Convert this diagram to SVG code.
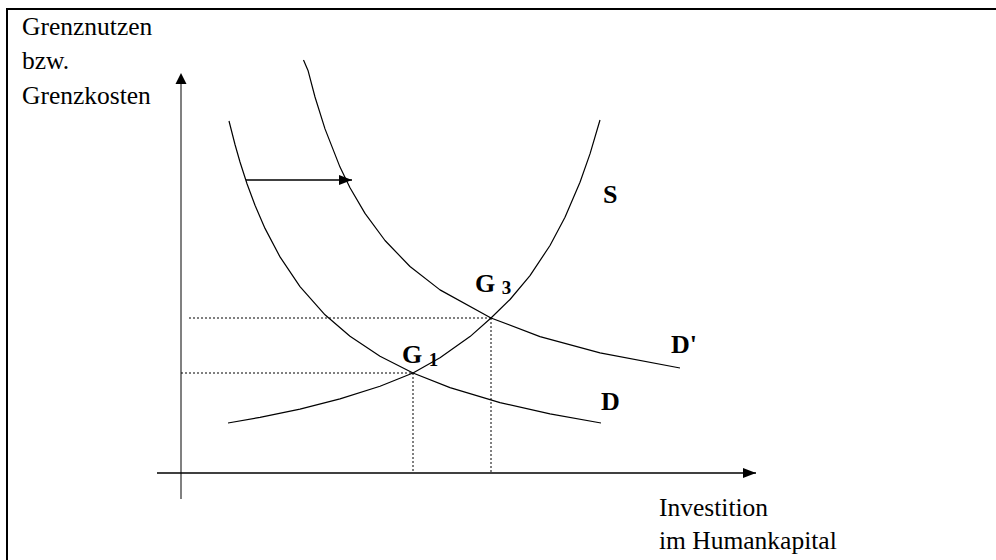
<svg xmlns="http://www.w3.org/2000/svg" width="996" height="560" viewBox="0 0 996 560">
<style>
.lbl{font-family:"Liberation Serif","Times New Roman",serif;font-size:25.5px;fill:#000}
.b{font-family:"Liberation Serif","Times New Roman",serif;font-size:26px;font-weight:bold;fill:#000}
.sub{font-size:19px}
.curve{fill:none;stroke:#000;stroke-width:1.2;stroke-linejoin:round}
.dot{fill:none;stroke:#000;stroke-width:1;stroke-dasharray:2 2}
</style>
<defs>
<marker id="ah" markerWidth="14" markerHeight="12" refX="13" refY="5" orient="auto" markerUnits="userSpaceOnUse">
<path d="M0,0 L13,5 L0,10 Z" fill="#000"/>
</marker>
</defs>
<rect x="7" y="9" width="1000" height="560" fill="#fff" stroke="#000" stroke-width="2"/>
<g id="axes">
<line x1="181" y1="499" x2="181" y2="84" stroke="#808080" stroke-width="2"/>
<path d="M181,73 L186.5,84 L175.5,84 Z" fill="#000"/>
<line x1="157" y1="473" x2="756" y2="473" stroke="#000" stroke-width="1.3" marker-end="url(#ah)"/>
</g>
<g id="guides">
<line class="dot" x1="189" y1="318" x2="491" y2="318"/>
<line class="dot" x1="181" y1="373" x2="413" y2="373"/>
<line class="dot" x1="413" y1="373" x2="413" y2="473"/>
<line class="dot" x1="491" y1="318" x2="491" y2="473"/>
</g>
<g id="curves">
<path id="curve-D" class="curve" d="M229,121 L235,144.5 L240,162 L247,183.7 L255,205.3 L265,228.4 L280,256.9 L300,286.6 L325,314.8 L350,336.3 L380,356.2 L413,373 L450,387.6 L500,402.6 L550,413.9 L601,423"/>
<path id="curve-Dp" class="curve" d="M303.5,60 L308,70.4 L315,97 L325,128.9 L340,167.1 L350,187.7 L365,213.4 L385,240.5 L410,266.5 L440,289.9 L491,318 L540,336.6 L600,352.8 L680,368"/>
<path id="curve-S" class="curve" d="M228,423 L260,417.4 L300,409.1 L340,398.9 L380,386.2 L413,373 L440,357.8 L470,336.6 L491,318 L510,299.5 L530,275.6 L550,245.5 L565,217.3 L580,182.3 L590,153.9 L600,120"/>
</g>
<g id="connectors">
<line x1="246" y1="180" x2="352" y2="180" stroke="#000" stroke-width="1.3" marker-end="url(#ah)"/>
</g>
<g id="labels">
<text class="lbl" x="22" y="35">Grenznutzen</text>
<text class="lbl" x="22" y="69">bzw.</text>
<text class="lbl" x="22" y="104">Grenzkosten</text>
<text class="lbl" x="659" y="516">Investition</text>
<text class="lbl" x="659" y="549">im Humankapital</text>
<text class="b" x="402" y="363">G <tspan class="sub" dy="3">1</tspan></text>
<text class="b" x="475" y="292">G <tspan class="sub" dy="2">3</tspan></text>
<text class="b" x="603" y="203">S</text>
<text class="b" x="671" y="353">D'</text>
<text class="b" x="601" y="410">D</text>
</g>
</svg>
